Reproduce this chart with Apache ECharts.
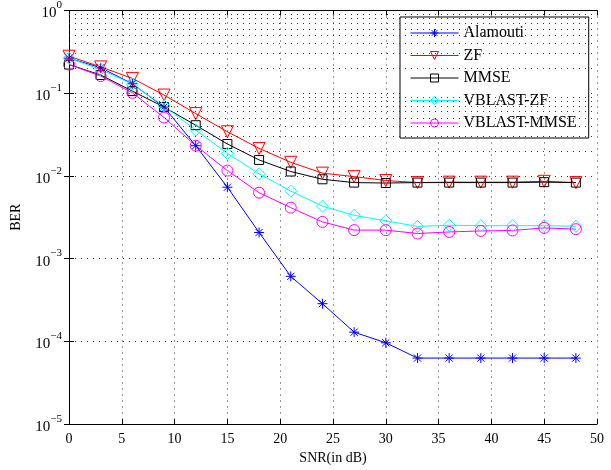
<!DOCTYPE html>
<html>
<head>
<meta charset="utf-8">
<script src="https://cdn.jsdelivr.net/npm/echarts@6/dist/echarts.min.js"></script>
<style>html,body{margin:0;padding:0;background:#fff}#main{width:611px;height:470px}</style>
</head>
<body>
<div id="main"></div>
<script>
var snr = [0, 3, 6, 9, 12, 15, 18, 21, 24, 27, 30, 33, 36, 39, 42, 45, 48];
var alamouti = [0.265, 0.203, 0.130, 0.068, 0.0232, 0.0073, 0.00207, 0.00061, 0.000285, 0.000129, 0.0000959, 0.0000627, 0.0000627, 0.0000627, 0.0000627, 0.0000627, 0.0000627];
var zf = [0.28, 0.208, 0.151, 0.095, 0.0567, 0.0342, 0.0215, 0.0146, 0.0108, 0.0098, 0.0088, 0.0083, 0.0084, 0.0084, 0.0084, 0.0086, 0.0083];
var mmse = [0.222, 0.166, 0.106, 0.068, 0.041, 0.0243, 0.0156, 0.0113, 0.0091, 0.0083, 0.0082, 0.0083, 0.0083, 0.0083, 0.0083, 0.0084, 0.0083];
var vblastZf = [0.265, 0.194, 0.128, 0.070, 0.0358, 0.0187, 0.0106, 0.00655, 0.0043, 0.00334, 0.00286, 0.00245, 0.00253, 0.0025, 0.0025, 0.0025, 0.00246];
var vblastMmse = [0.222, 0.161, 0.101, 0.0508, 0.0232, 0.0116, 0.00627, 0.00413, 0.00278, 0.00221, 0.00221, 0.00201, 0.0021, 0.00216, 0.00219, 0.00235, 0.00227];
var names = ['Alamouti', 'ZF', 'MMSE', 'VBLAST-ZF', 'VBLAST-MMSE'];
var colors = ['#0000ff', '#ff0000', '#000000', '#00ffff', '#ff00ff'];

function pairs(ys) {
    return snr.map(function (x, i) { return [x, ys[i]]; });
}

// minor grid values 2..9 in each decade
var minorVals = [];
for (var d = -5; d < 0; d++) {
    for (var k = 2; k <= 9; k++) {
        minorVals.push({yAxis: k * Math.pow(10, d)});
    }
}

var myChart = echarts.init(document.getElementById('main'));
var serif = 'Liberation Serif';
var dots = {show: true, lineStyle: {color: '#333', type: [1, 5], width: 1}};
var asterisk = 'path://M0,-5L0,5M-5,0L5,0M-3.6,-3.6L3.6,3.6M-3.6,3.6L3.6,-3.6';
var clear = 'rgba(0,0,0,0)';

function lineSeries(i, ys, symbol, size, rotate) {
    return {
        name: names[i],
        type: 'line',
        data: pairs(ys),
        symbol: symbol,
        symbolSize: size,
        symbolRotate: rotate || 0,
        showAllSymbol: true,
        lineStyle: {color: colors[i], width: 1},
        itemStyle: {color: clear, borderColor: colors[i], borderWidth: 1},
        emphasis: {disabled: true},
        z: 3
    };
}

var legendData = names.map(function (n, i) {
    return {
        name: n,
        lineStyle: {color: colors[i], width: 1},
        itemStyle: {color: clear, borderColor: colors[i], borderWidth: 1}
    };
});

var option = {
    animation: false,
    textStyle: {fontFamily: serif},
    grid: {left: 69, right: 14, top: 9, bottom: 45},
    legend: {
        orient: 'vertical',
        left: 400,
        top: 17,
        padding: [8, 12, 7, 10],
        itemWidth: 48,
        itemHeight: 10,
        itemGap: 6.5,
        backgroundColor: '#fff',
        borderColor: '#000',
        borderWidth: 1,
        textStyle: {fontFamily: serif, fontSize: 16, color: '#000'},
        data: legendData
    },
    xAxis: [{
        type: 'value',
        min: 0, max: 50, interval: 5,
        name: 'SNR(in dB)',
        nameLocation: 'middle',
        nameGap: 27,
        nameTextStyle: {fontFamily: serif, fontSize: 14, color: '#000'},
        axisLine: {lineStyle: {color: '#000', width: 1}},
        axisTick: {inside: true, length: 5, lineStyle: {color: '#000'}},
        axisLabel: {fontFamily: serif, fontSize: 14, color: '#000', margin: 8},
        splitLine: dots
    }, {
        type: 'value',
        position: 'top',
        min: 0, max: 50, interval: 5,
        axisLine: {show: true, lineStyle: {color: '#000', width: 1}},
        axisTick: {show: true, inside: true, length: 5, lineStyle: {color: '#000'}},
        axisLabel: {show: false},
        splitLine: {show: false}
    }],
    yAxis: [{
        type: 'log',
        logBase: 10,
        min: 1e-5, max: 1,
        name: 'BER',
        nameLocation: 'middle',
        nameGap: 46,
        nameTextStyle: {fontFamily: serif, fontSize: 14, color: '#000'},
        axisLine: {show: true, lineStyle: {color: '#000', width: 1}},
        axisTick: {show: true, inside: true, length: 5, lineStyle: {color: '#000'}},
        axisLabel: {
            margin: 7,
            formatter: function (v) {
                var e = Math.round(Math.log10(v));
                return '{b|10}{s|' + (e < 0 ? '\u2212' + (-e) : e) + '}';
            },
            rich: {
                b: {fontFamily: serif, fontSize: 15, color: '#000', verticalAlign: 'bottom', padding: [6, 0, 0, 0]},
                s: {fontFamily: serif, fontSize: 11, color: '#000', verticalAlign: 'top', padding: [0, 0, 6, 0]}
            }
        },
        splitLine: dots
    }, {
        type: 'log',
        logBase: 10,
        min: 1e-5, max: 1,
        position: 'right',
        axisLine: {show: true, lineStyle: {color: '#000', width: 1}},
        axisTick: {show: true, inside: true, length: 5, lineStyle: {color: '#000'}},
        axisLabel: {show: false},
        splitLine: {show: false}
    }],
    series: [
        {
            type: 'line',
            data: [],
            silent: true,
            markLine: {
                silent: true,
                symbol: 'none',
                label: {show: false},
                lineStyle: {color: '#333', type: [1, 5], width: 1},
                data: minorVals
            },
            z: 1
        },
        lineSeries(0, alamouti, asterisk, 10),
        lineSeries(1, zf, 'triangle', 12, 180),
        lineSeries(2, mmse, 'rect', 9),
        lineSeries(3, vblastZf, 'diamond', 12),
        lineSeries(4, vblastMmse, 'circle', 11)
    ]
};
myChart.setOption(option);
</script>
</body>
</html>
